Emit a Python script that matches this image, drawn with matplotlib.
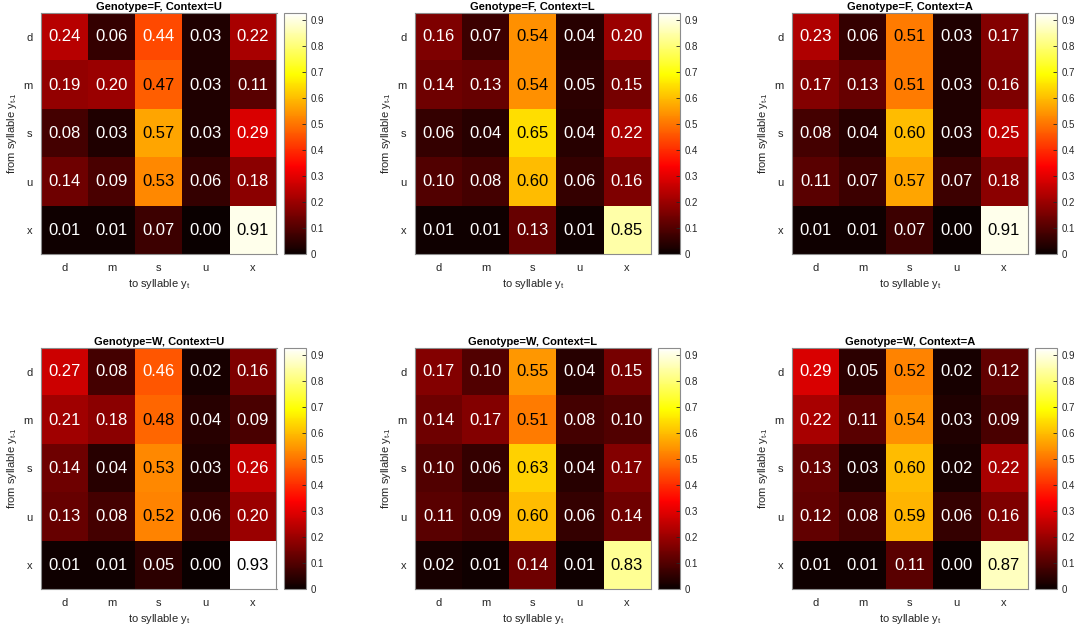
import matplotlib
matplotlib.use("Agg")
import matplotlib.pyplot as plt
import numpy as np

plt.rcParams["font.family"] = ["Liberation Sans", "DejaVu Sans"]
plt.rcParams["mathtext.fontset"] = "custom"
plt.rcParams["mathtext.rm"] = "Liberation Sans"
plt.rcParams["mathtext.it"] = "Liberation Sans"

SYLLABLES = ["d", "m", "s", "u", "x"]

TRANS_F_U = [
    [0.24, 0.06, 0.44, 0.03, 0.22],
    [0.19, 0.20, 0.47, 0.03, 0.11],
    [0.08, 0.03, 0.57, 0.03, 0.29],
    [0.14, 0.09, 0.53, 0.06, 0.18],
    [0.01, 0.01, 0.07, 0.00, 0.91],
]
TRANS_F_L = [
    [0.16, 0.07, 0.54, 0.04, 0.20],
    [0.14, 0.13, 0.54, 0.05, 0.15],
    [0.06, 0.04, 0.65, 0.04, 0.22],
    [0.10, 0.08, 0.60, 0.06, 0.16],
    [0.01, 0.01, 0.13, 0.01, 0.85],
]
TRANS_F_A = [
    [0.23, 0.06, 0.51, 0.03, 0.17],
    [0.17, 0.13, 0.51, 0.03, 0.16],
    [0.08, 0.04, 0.60, 0.03, 0.25],
    [0.11, 0.07, 0.57, 0.07, 0.18],
    [0.01, 0.01, 0.07, 0.00, 0.91],
]
TRANS_W_U = [
    [0.27, 0.08, 0.46, 0.02, 0.16],
    [0.21, 0.18, 0.48, 0.04, 0.09],
    [0.14, 0.04, 0.53, 0.03, 0.26],
    [0.13, 0.08, 0.52, 0.06, 0.20],
    [0.01, 0.01, 0.05, 0.00, 0.93],
]
TRANS_W_L = [
    [0.17, 0.10, 0.55, 0.04, 0.15],
    [0.14, 0.17, 0.51, 0.08, 0.10],
    [0.10, 0.06, 0.63, 0.04, 0.17],
    [0.11, 0.09, 0.60, 0.06, 0.14],
    [0.02, 0.01, 0.14, 0.01, 0.83],
]
TRANS_W_A = [
    [0.29, 0.05, 0.52, 0.02, 0.12],
    [0.22, 0.11, 0.54, 0.03, 0.09],
    [0.13, 0.03, 0.60, 0.02, 0.22],
    [0.12, 0.08, 0.59, 0.06, 0.16],
    [0.01, 0.01, 0.11, 0.00, 0.87],
]

PANELS = [
    ("F", "U", TRANS_F_U),
    ("F", "L", TRANS_F_L),
    ("F", "A", TRANS_F_A),
    ("W", "U", TRANS_W_U),
    ("W", "L", TRANS_W_L),
    ("W", "A", TRANS_W_A),
]

W, H = 1075, 632
LEFTS = [41, 415, 792]
TOPS = [12.7, 347.7]
AX_W, AX_H = 235.5, 241.5
CB_GAP, CB_W = 7, 22.5
SPINE = "#8c8c8c"
LABEL = "#262626"

vmax = max(np.max(m) for _, _, m in PANELS)

fig = plt.figure(figsize=(W / 100, H / 100), dpi=100)


def frac(x, y, w, h):
    return [x / W, 1 - (y + h) / H, w / W, h / H]


for k, (geno, ctx, mat) in enumerate(PANELS):
    r, c = divmod(k, 3)
    x0, y0 = LEFTS[c], TOPS[r]
    ax = fig.add_axes(frac(x0, y0, AX_W, AX_H))
    data = np.array(mat)
    im = ax.imshow(data, cmap="hot", vmin=0, vmax=vmax, aspect="auto",
                   interpolation="nearest")
    for i in range(data.shape[0]):
        for j in range(data.shape[1]):
            v = data[i, j]
            ax.text(j, i, f"{v:.2f}", ha="center", va="center", fontsize=12,
                    color="black" if v > 0.465 else "white")

    ax.set_xticks(range(len(SYLLABLES)))
    ax.set_xticklabels(SYLLABLES)
    ax.set_yticks(range(len(SYLLABLES)))
    ax.set_yticklabels(SYLLABLES)
    ax.tick_params(length=0, labelsize=8, colors=LABEL, pad=6)
    for s in ax.spines.values():
        s.set_color(SPINE)
        s.set_linewidth(0.8)
    ax.set_title(f"Genotype={geno}, Context={ctx}", fontsize=8,
                 fontweight="bold", pad=2)
    ax.set_xlabel(r"to syllable y$_\mathregular{t}$", fontsize=8,
                  color=LABEL, labelpad=3)
    ax.set_ylabel(r"from syllable y$_\mathregular{t\text{-}1}$", fontsize=8,
                  color=LABEL, labelpad=3)

    cax = fig.add_axes(frac(x0 + AX_W + CB_GAP, y0, CB_W, AX_H))
    cb = fig.colorbar(im, cax=cax)
    ticks = np.round(np.arange(0, 1.0, 0.1), 1)
    cb.set_ticks(ticks)
    cb.set_ticklabels([f"{t:g}" for t in ticks])
    cax.tick_params(direction="in", length=3, width=0.6, labelsize=7,
                    colors=LABEL, pad=3)
    cb.outline.set_edgecolor(SPINE)
    cb.outline.set_linewidth(0.8)

fig.savefig("out.png", dpi=100)
